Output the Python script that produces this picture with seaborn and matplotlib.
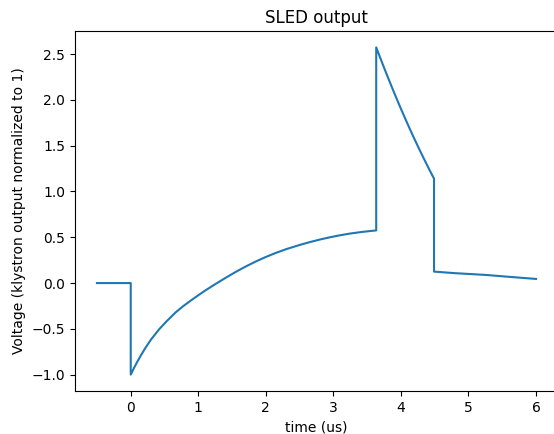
import numpy as np
import pandas as pd
import matplotlib
matplotlib.use('Agg')
import matplotlib.pyplot as plt
import seaborn as sns

# SLED output waveform
# flat part before the klystron starts
t_pre = [-0.5, 0.0]
v_pre = [0.0, 0.0]

# filling of the cavities (phase reversed)
t_fill = [0.0, 0.05, 0.1, 0.15, 0.22, 0.3, 0.42, 0.53, 0.665, 0.78, 0.91,
          1.01, 1.11, 1.255, 1.4, 1.55, 1.7, 1.85, 2.0, 2.14, 2.3, 2.51,
          2.65, 2.81, 2.95, 3.10, 3.25, 3.40, 3.52, 3.634]
v_fill = [-1.0, -0.925, -0.855, -0.79, -0.705, -0.617, -0.505, -0.418, -0.32,
          -0.25, -0.18, -0.128, -0.078, -0.01, 0.055, 0.12, 0.18, 0.235,
          0.285, 0.327, 0.37, 0.418, 0.447, 0.477, 0.5, 0.522, 0.541, 0.556,
          0.566, 0.575]

# phase flip -> compressed pulse
t_pulse = [3.634, 3.70, 3.75, 3.81, 3.87, 3.93, 4.0, 4.06, 4.12, 4.19, 4.25,
           4.31, 4.37, 4.43, 4.49]
v_pulse = [2.574, 2.447, 2.352, 2.241, 2.132, 2.025, 1.903, 1.802, 1.702,
           1.589, 1.495, 1.403, 1.313, 1.225, 1.14]

# klystron off, cavities discharge
t_tail = [4.49, 4.8, 5.27, 5.6, 6.0]
v_tail = [0.125, 0.108, 0.088, 0.068, 0.045]

df = pd.DataFrame({'time': t_pre + t_fill + t_pulse + t_tail,
                   'voltage': v_pre + v_fill + v_pulse + v_tail})

fig = plt.figure(figsize=(5.54, 4.34), dpi=100)
ax = fig.add_axes([0.1354, 0.0991, 0.8718, 0.8295])

sns.lineplot(data=df, x='time', y='voltage', estimator=None, sort=False,
             color='#1f77b4', linewidth=1.5, ax=ax)

ax.set_title('SLED output')
ax.set_xlabel('time (us)')
ax.set_ylabel('Voltage (klystron output normalized to 1)')
ax.set_xticks([0, 1, 2, 3, 4, 5, 6])
ax.set_yticks([-1.0, -0.5, 0.0, 0.5, 1.0, 1.5, 2.0, 2.5])

fig.savefig('out.png', dpi=100)
